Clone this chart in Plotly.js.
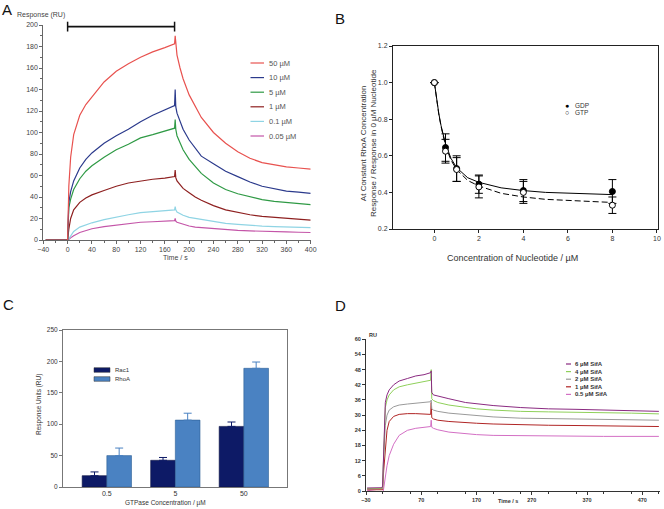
<!DOCTYPE html>
<html><head><meta charset="utf-8">
<script src="https://cdn.plot.ly/plotly-3.0.1.min.js"></script>
<style>html,body{margin:0;padding:0;background:#fff}#chart{width:664px;height:509px}</style>
</head><body><div id="chart"></div>
<script>
// ---------- Panel A data ----------
const timeA = [-36,-1,0,2,5,10,20,30,40,60,80,100,120,140,160,176,177,178,180,185,190,200,210,220,240,260,280,300,320,340,360,380,400];
const namesA = ['50 µM','10 µM','5 µM','1 µM','0.1 µM','0.05 µM'];
const resp50uM  = [0,0,0,50,77,98,116,126,133,147,157,164,170,175,179,182.5,190,182,172,160,150,135,124,114,100,90,82,76,72,70,68,67,66];
const resp10uM  = [0,0,0,35,45,55,67,75,81,90,97,103,110,116,121,125,140,124,118,110,103,93,85,78,71,64,59,54,50,47.5,45.5,44.5,43.4];
const resp5uM   = [0,0,0,30,38,47,57,64,69,77,84,89,95,98,101,104,112,103,97,90,84,75,68,62,53,47,43,40,37.5,36,35,34,33];
const resp1uM   = [0,0,0,10,20,28,35,39,42,46,50,53,55,56.5,57.5,59,65,58,55,51,48,44,40,37,32,28,25.5,23.5,22,21,20,19,18.5];
const resp01uM  = [0,0,0,1,4,8,12,14,16,19,21.5,23.5,25.5,26.5,27.5,28,31,28,26,24.5,23,21,20,19,17,15.5,14.5,13.5,13,12.5,12,11.8,11.5];
const resp005uM = [0,0,0,0.5,2,4,7,9,10.5,12.5,14,15.5,16.5,17,17.5,18,20,17.5,16.5,15.5,14.5,13,12,11.5,10.5,9.5,9,8.5,8,7.8,7.5,7.2,7];
const injectionA = [0,176];
const injectionLevelA = 198.5;

// ---------- Panel B data ----------
const nucConc = [0,0.5,1,2,4,8];
const gdpResp = [1.0,0.645,0.53,0.445,0.41,0.405];
const gdpErr  = [0,0.075,0.07,0.05,0.06,0.065];
const gtpResp = [1.0,0.625,0.525,0.43,0.40,0.33];
const gtpErr  = [0,0.065,0.065,0.06,0.06,0.045];
const fitX    = [0,0.1,0.2,0.3,0.4,0.5,0.75,1,1.5,2,3,4,5,6,7,8];
const gdpFit  = [1.0,0.91,0.83,0.765,0.71,0.665,0.585,0.535,0.48,0.455,0.425,0.41,0.40,0.395,0.39,0.388];
const gtpFit  = [1.0,0.905,0.825,0.76,0.70,0.655,0.575,0.525,0.465,0.435,0.395,0.375,0.362,0.355,0.35,0.345];
const namesB  = ['GDP','GTP'];

// ---------- Panel C data ----------
const gtpaseConc = ['0.5','5','50'];
const rac1Resp = [18,42.5,96.5];
const rac1Err  = [6,4.5,7];
const rhoaResp = [50,106.5,189];
const rhoaErr  = [12,11,10];
const namesC = ['Rac1','RhoA'];

// ---------- Panel D data ----------
const timeD = [-28,-1,0,2,5,8,12,20,30,45,60,75,87,88,89,92,100,120,150,170,200,250,300,350,400,450,500];
const namesD = ['6 µM SifA','4 µM SifA','2 µM SifA','1 µM SifA','0.5 µM SifA'];
const sifA6  = [1.2,1.3,2,20,35,38,40,42,43.5,44.5,45.5,46,46.8,47.5,39,38,37.5,36.5,35,34.5,33.8,33,32.5,32.3,32,31.8,31.5];
const sifA4  = [1,1,1.5,18,33,36,38,40,41.2,42,42.7,43.2,43.8,48,36.5,35.8,35,34,33,32.5,32,31.5,31.3,31.2,31,30.8,30.5];
const sifA2  = [0.8,0.8,1,14,26,30,32,33.3,34,34.4,34.7,35,35.3,36,32.5,32,31.5,30.8,30.2,29.8,29.3,28.8,28.6,28.5,28.3,28.2,28];
const sifA1  = [0.5,0.5,0.5,8,18,24,27.5,29.5,30.3,30.6,30.6,30.5,30.3,35,29,28.5,28,27.5,27,26.8,26.5,26.2,26,25.9,25.8,25.6,25.5];
const sifA05 = [0.3,-0.5,-2,1,6,10,14,18.5,22,24,24.8,25.2,25.5,28,25.2,24.8,24.2,23.3,22.6,22.3,22,21.8,21.7,21.7,21.6,21.6,21.6];

// ---------- styling ----------
const W = 664, H = 509;
const px = x => x / W;
const py = y => 1 - y / H;
const FONT = 'Liberation Sans, Arial, sans-serif';
const colorsA = ['#e8524f','#2b3a8c','#2f9a45','#8e2020','#8fd4e4','#c455a8'];
const colorsC = ['#0d1a66','#4a82c2'];
const colorsD = ['#8a2a80','#8fd05a','#9a9a9a','#b02525','#d36fc4'];

const traces = [];
const seriesA = [resp50uM,resp10uM,resp5uM,resp1uM,resp01uM,resp005uM];
seriesA.slice().reverse().forEach((s,ri)=>{
  const i = seriesA.length-1-ri;
  traces.push({type:'scatter',mode:'lines',x:timeA,y:s,xaxis:'x',yaxis:'y',
    line:{color:colorsA[i],width:1.2},showlegend:false,hoverinfo:'skip'});
});
traces.push({type:'scatter',mode:'lines+markers',x:injectionA,y:injectionA.map(()=>injectionLevelA),
  xaxis:'x',yaxis:'y',line:{color:'#111',width:1.8},
  marker:{symbol:'line-ns-open',size:7,line:{color:'#111',width:1.5}},showlegend:false,cliponaxis:false});

// Panel B
traces.push({type:'scatter',mode:'lines',x:fitX,y:gdpFit,xaxis:'x2',yaxis:'y2',line:{color:'#000',width:1},showlegend:false});
traces.push({type:'scatter',mode:'lines',x:fitX,y:gtpFit,xaxis:'x2',yaxis:'y2',line:{color:'#000',width:1,dash:'6px,3px'},showlegend:false});
traces.push({type:'scatter',mode:'markers',x:nucConc,y:gdpResp,xaxis:'x2',yaxis:'y2',
  marker:{symbol:'circle',size:6,color:'#000',line:{color:'#000',width:1}},
  error_y:{type:'data',array:gdpErr,visible:true,color:'#000',thickness:1,width:4},showlegend:false});
traces.push({type:'scatter',mode:'markers',x:nucConc,y:gtpResp,xaxis:'x2',yaxis:'y2',
  marker:{symbol:'circle',size:6,color:'#fff',line:{color:'#000',width:1}},
  error_y:{type:'data',array:gtpErr,visible:true,color:'#000',thickness:1,width:4},showlegend:false});

// Panel C
traces.push({type:'bar',x:gtpaseConc,y:rac1Resp,xaxis:'x3',yaxis:'y3',name:namesC[0],
  marker:{color:colorsC[0],line:{color:'#0a0f40',width:0.6}},
  error_y:{type:'data',symmetric:false,array:rac1Err,arrayminus:[0,0,0],color:colorsC[0],thickness:1,width:4},showlegend:false});
traces.push({type:'bar',x:gtpaseConc,y:rhoaResp,xaxis:'x3',yaxis:'y3',name:namesC[1],
  marker:{color:colorsC[1],line:{color:'#2c5f95',width:0.6}},
  error_y:{type:'data',symmetric:false,array:rhoaErr,arrayminus:[0,0,0],color:colorsC[1],thickness:1,width:4},showlegend:false});

// Panel D
const seriesD = [sifA6,sifA4,sifA2,sifA1,sifA05];
seriesD.slice().reverse().forEach((s,ri)=>{
  const i = seriesD.length-1-ri;
  traces.push({type:'scatter',mode:'lines',x:timeD,y:s,xaxis:'x4',yaxis:'y4',
    line:{color:colorsD[i],width:1},showlegend:false});
});

const tf = (s,c)=>({family:FONT,size:s,color:c||'#333'});
const baseAx = {showgrid:false,zeroline:false,showline:true,linewidth:1,ticks:'outside',ticklen:3,tickwidth:1};

const layout = {
  width:W,height:H,margin:{l:0,r:0,t:0,b:0},paper_bgcolor:'#fff',plot_bgcolor:'rgba(0,0,0,0)',
  showlegend:false,barmode:'group',bargap:0.28,bargroupgap:0,
  xaxis:Object.assign({},baseAx,{domain:[px(43.3),px(310.7)],range:[-40,400],anchor:'y',tick0:0,dtick:40,
    linecolor:'#666',tickcolor:'#666',tickfont:tf(7,'#444'),minor:{dtick:20,ticklen:2,ticks:'outside',tickcolor:'#666'}}),
  yaxis:Object.assign({},baseAx,{domain:[py(240),py(25)],range:[0,200],anchor:'x',dtick:20,
    linecolor:'#666',tickcolor:'#666',tickfont:tf(7,'#444'),minor:{dtick:10,ticklen:2,ticks:'outside',tickcolor:'#666'}}),
  xaxis2:Object.assign({},baseAx,{domain:[px(393),px(658)],range:[-1.86,10.05],anchor:'y2',tick0:0,dtick:2,mirror:true,
    linecolor:'#222',tickcolor:'#222',tickfont:tf(7,'#333')}),
  yaxis2:Object.assign({},baseAx,{domain:[py(229),py(46)],range:[0.2,1.2],anchor:'x2',dtick:0.2,tickformat:'.1f',mirror:true,
    linecolor:'#222',tickcolor:'#222',tickfont:tf(7,'#333')}),
  xaxis3:Object.assign({},baseAx,{domain:[px(63),px(287)],type:'category',range:[-0.64,2.63],anchor:'y3',mirror:true,ticks:'',
    linecolor:'#777',tickfont:tf(7,'#333')}),
  yaxis3:Object.assign({},baseAx,{domain:[py(487),py(330)],range:[0,250],anchor:'x3',dtick:50,mirror:true,
    linecolor:'#777',tickcolor:'#777',tickfont:tf(6.5,'#333')}),
  xaxis4:Object.assign({},baseAx,{domain:[px(366),px(660)],range:[-30,502],anchor:'y4',tick0:-30,dtick:100,
    linecolor:'#333',tickcolor:'#333',tickfont:{family:FONT,size:5.5,color:'#333',weight:'bold'},
    minor:{dtick:50,ticklen:2,ticks:'outside',tickcolor:'#333'}}),
  yaxis4:Object.assign({},baseAx,{domain:[py(491),py(339.3)],range:[0,60],anchor:'x4',dtick:6,
    linecolor:'#333',tickcolor:'#333',tickfont:{family:FONT,size:5.5,color:'#333',weight:'bold'}}),
  annotations:[],shapes:[]
};
const ann = (x,y,text,opts)=>layout.annotations.push(Object.assign({xref:'paper',yref:'paper',x:px(x),y:py(y),text:text,
  showarrow:false,xanchor:'center',yanchor:'middle',font:{family:FONT,size:7,color:'#333'}},opts||{}));

// panel letters
ann(7,10,'A',{font:{family:FONT,size:15,color:'#111'}});
ann(340,18,'B',{font:{family:FONT,size:15,color:'#111'}});
ann(8,304,'C',{font:{family:FONT,size:15,color:'#111'}});
ann(340,305,'D',{font:{family:FONT,size:15,color:'#111'}});

// axis titles
ann(41,15,'Response (RU)',{font:{family:FONT,size:7,color:'#444'}});
ann(175,257,'Time / s',{font:{family:FONT,size:7,color:'#444'}});
ann(368,143,'At Constant RhoA Concentration<br>Response / Response in 0 µM Nucleotide',{textangle:-90,font:{family:FONT,size:8,color:'#333'}});
ann(512,258,'Concentration of Nucleotide / µM',{font:{family:FONT,size:9,color:'#333'}});
ann(39,405,'Response Units (RU)',{textangle:-90,font:{family:FONT,size:6.5,color:'#333'}});
ann(165,503,'GTPase Concentration / µM',{font:{family:FONT,size:6.5,color:'#333'}});
ann(373,335,'RU',{font:{family:FONT,size:5.5,color:'#333',weight:'bold'}});
ann(508,501,'Time / s',{font:{family:FONT,size:5.5,color:'#333',weight:'bold'}});

// legend A
namesA.forEach((n,i)=>{
  const y = 63 + i*14.6;
  layout.shapes.push({type:'line',xref:'paper',yref:'paper',x0:px(250.5),x1:px(264),y0:py(y),y1:py(y),line:{color:colorsA[i],width:1.2}});
  ann(266.5,y,n,{xanchor:'left',font:{family:FONT,size:7.5,color:'#555'}});
});
// legend B
ann(567,105,'●',{font:{family:FONT,size:7,color:'#000'}});
ann(567,113,'○',{font:{family:FONT,size:7,color:'#000'}});
namesB.forEach((n,i)=>ann(573,105+i*8,n,{xanchor:'left',font:{family:FONT,size:6.5,color:'#333'}}));
// legend C
namesC.forEach((n,i)=>{
  const y = 370 + i*9;
  layout.shapes.push({type:'rect',xref:'paper',yref:'paper',x0:px(94),x1:px(110),y0:py(y+2.3),y1:py(y-2.3),
    fillcolor:colorsC[i],line:{color:'#333',width:0.5}});
  ann(113,y,n,{xanchor:'left',font:{family:FONT,size:6,color:'#333'}});
});
// legend D
namesD.forEach((n,i)=>{
  const y = 364 + i*7.6;
  layout.shapes.push({type:'line',xref:'paper',yref:'paper',x0:px(566),x1:px(571),y0:py(y),y1:py(y),line:{color:colorsD[i],width:1.2}});
  ann(572.5,y,n,{xanchor:'left',font:{family:FONT,size:6,color:'#333',weight:'bold'}});
});

Plotly.newPlot('chart',traces,layout,{staticPlot:true,displayModeBar:false});
</script></body></html>
